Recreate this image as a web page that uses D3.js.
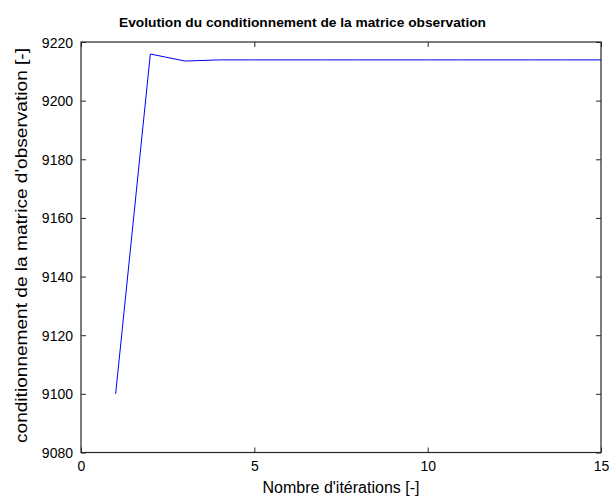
<!DOCTYPE html>
<html>
<head>
<meta charset="utf-8">
<script src="https://cdn.jsdelivr.net/npm/d3@7"></script>
<style>
  html, body { margin: 0; padding: 0; background: #fff; }
  svg { display: block; }
  text { font-family: "Liberation Sans", Arial, sans-serif; fill: #000; }
</style>
</head>
<body>
<svg id="chart" width="609" height="499"></svg>
<script>
// Iteration index and condition number of the observation matrix
const iterations = [1, 2, 3, 4, 5, 6, 7, 8, 9, 10, 11, 12, 13, 14, 15];
const conditioning = [9100, 9215.9, 9213.5, 9213.9, 9213.9, 9213.9, 9213.9, 9213.9,
                      9213.9, 9213.9, 9213.9, 9213.9, 9213.9, 9213.9, 9213.9];
const xTicks = [0, 5, 10, 15];
const yTicks = [9080, 9100, 9120, 9140, 9160, 9180, 9200, 9220];

const titleText = "Evolution du conditionnement de la matrice observation";
const xLabel = "Nombre d'itérations [-]";
const yLabel = "conditionnement de la matrice d'observation [-]";

const svg = d3.select("#chart");
const plotLeft = 81, plotRight = 601, plotTop = 42, plotBottom = 452.5;

const x = d3.scaleLinear().domain([0, 15]).range([plotLeft, plotRight]);
const y = d3.scaleLinear().domain([9080, 9220]).range([plotBottom, plotTop]);

const axisColor = "#262626";
const fmt = d3.format("d");

// axes box
svg.append("rect")
  .attr("x", plotLeft).attr("y", plotTop)
  .attr("width", plotRight - plotLeft).attr("height", plotBottom - plotTop)
  .attr("fill", "#fff").attr("stroke", axisColor).attr("stroke-width", 1.2);

// bottom & left axes with inward ticks
const gx = svg.append("g").attr("transform", `translate(0,${plotBottom})`)
  .call(d3.axisBottom(x).tickValues(xTicks).tickFormat(fmt).tickSizeInner(-5).tickSizeOuter(0).tickPadding(9));
const gy = svg.append("g").attr("transform", `translate(${plotLeft},0)`)
  .call(d3.axisLeft(y).tickValues(yTicks).tickFormat(fmt).tickSizeInner(-5).tickSizeOuter(0).tickPadding(8));
// mirrored ticks on top and right
const gxt = svg.append("g").attr("transform", `translate(0,${plotTop})`)
  .call(d3.axisTop(x).tickValues(xTicks).tickSizeInner(-5).tickSizeOuter(0).tickFormat(""));
const gyr = svg.append("g").attr("transform", `translate(${plotRight},0)`)
  .call(d3.axisRight(y).tickValues(yTicks).tickSizeInner(-5).tickSizeOuter(0).tickFormat(""));

[gx, gy, gxt, gyr].forEach(g => {
  g.select(".domain").remove();
  g.selectAll(".tick line").attr("stroke", axisColor);
  g.selectAll("text").attr("font-size", 14).attr("font-family", "Liberation Sans, Arial, sans-serif").attr("fill", "#000");
});
gy.selectAll("text").attr("dy", "0.36em");

// data line
const line = d3.line().x((d, i) => x(iterations[i])).y(d => y(d));
svg.append("path")
  .datum(conditioning)
  .attr("d", line)
  .attr("fill", "none")
  .attr("stroke", "#0000ff")
  .attr("stroke-width", 1);

// title
svg.append("text")
  .attr("x", 302.5).attr("y", 27)
  .attr("text-anchor", "middle")
  .attr("font-size", 13).attr("font-weight", "bold")
  .attr("textLength", 367).attr("lengthAdjust", "spacingAndGlyphs")
  .text(titleText);

// x label
svg.append("text")
  .attr("x", (plotLeft + plotRight) / 2).attr("y", 493)
  .attr("text-anchor", "middle")
  .attr("font-size", 16)
  .text(xLabel);

// y label
svg.append("text")
  .attr("transform", `translate(27,245.5) rotate(-90)`)
  .attr("text-anchor", "middle")
  .attr("font-size", 16)
  .attr("textLength", 395).attr("lengthAdjust", "spacingAndGlyphs")
  .text(yLabel);
</script>
</body>
</html>
